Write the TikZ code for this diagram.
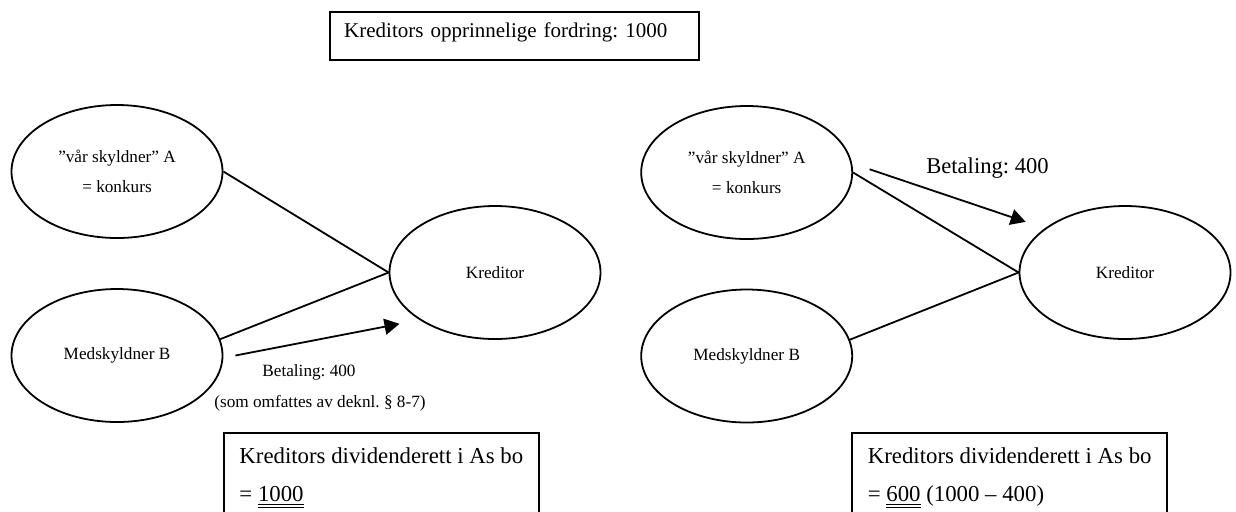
\documentclass[tikz,border=0pt]{standalone}
\usepackage{fontspec}
\setmainfont{Liberation Serif}
\usetikzlibrary{shapes.geometric,arrows.meta}
\newcommand{\dunder}[1]{\leavevmode\vtop{\hbox{#1}\kern0.9pt\hrule height0.5pt\kern0.8pt\hrule height0.5pt}}
\frenchspacing

\begin{document}
\begin{tikzpicture}[x=0.5pt,y=-0.5pt,
    party/.style={draw,ellipse,line width=0.9pt,minimum width=105.5pt,minimum height=66.5pt,inner sep=0pt,align=center,font=\fontsize{8.6}{15.25}\selectfont},
    textbox/.style={draw,line width=1.2pt,anchor=north west,align=left,minimum width=157.5pt,inner xsep=7pt,inner ysep=7.3pt,font=\fontsize{11.4}{19.15}\selectfont},
    link/.style={line width=0.9pt},
    pay/.style={line width=0.9pt,-{Triangle[length=7.5pt,width=8pt]}},
    small/.style={font=\fontsize{8.6}{10}\selectfont}]
                    \useasboundingbox (0,0) rectangle (1236,511);
                    \clip (0,0) rectangle (1236,511);
                    \node[draw,line width=1.2pt,anchor=north west,align=left,text width=170.5pt,inner xsep=7pt,inner ysep=5.5pt,text height=7.3pt,text depth=5.7pt,font=\fontsize{10.5}{12}\selectfont] (claim) at (329,11) {Kreditors opprinnelige fordring: 1000};
                    % left: B pays
                    \node[party] (a1) at (117,171.5) {”vår skyldner” A\\= konkurs};
                    \node[party] (b1) at (117,355.5) {Medskyldner B};
                    \node[party] (k1) at (495,272.5) {Kreditor};
                    \draw[link] (a1.east) -- (k1.west);
                    \draw[link] (b1.9) -- (k1.west);
                    \draw[pay] ([xshift=6pt]b1.east) -- ([xshift=-7pt,yshift=-4pt]k1.208);
                    \node[small] (pay1) at (309,372) {Betaling: 400};
                    \node[small] (note1) at (320,403) {(som omfattes av deknl. § 8-7)};
                    \node[textbox] (div1) at (222.6,432) {Kreditors dividenderett i As bo\\= \dunder{1000}};
                    % right: A pays
                    \node[party] (a2) at (746.7,172.5) {”vår skyldner” A\\= konkurs};
                    \node[party] (b2) at (746.7,356) {Medskyldner B};
                    \node[party] (k2) at (1125,272.5) {Kreditor};
                    \draw[link] (a2.east) -- (k2.west);
                    \draw[link] (b2.9) -- (k2.west);
                    \draw[pay] ([xshift=8.3pt,yshift=1.6pt]a2.east) -- ([xshift=-8.2pt,yshift=4.2pt]k2.153);
                    \node[font=\fontsize{11.3}{13}\selectfont] (pay2) at (987.5,168.3) {Betaling: 400};
                    \node[textbox] (div2) at (851,432) {Kreditors dividenderett i As bo\\= \dunder{600} (1000 – 400)};
                \end{tikzpicture}
\end{document}
